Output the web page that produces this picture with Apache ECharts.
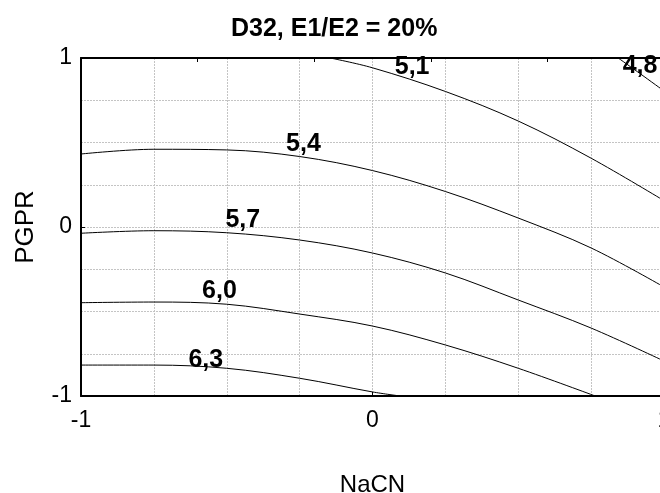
<!DOCTYPE html>
<html>
<head>
<meta charset="utf-8">
<script src="https://cdn.jsdelivr.net/npm/echarts@6/dist/echarts.min.js"></script>
<style>
  html, body { margin: 0; padding: 0; background: #fff; }
  #chart { width: 660px; height: 493px; }
</style>
</head>
<body>
<div id="chart"></div>
<script>
// contour lines, [NaCN, PGPR]
var line48 = [[0.843, 1], [0.92, 0.905], [1, 0.805]];
var line51 = [[-0.145, 1], [0.0, 0.942], [0.25, 0.802], [0.5, 0.627], [0.75, 0.407], [1, 0.156]];
var line54 = [[-1, 0.432], [-0.75, 0.46], [-0.5, 0.456], [-0.25, 0.417], [0, 0.334], [0.25, 0.21], [0.5, 0.053], [0.75, -0.124], [1, -0.355]];
var line57 = [[-1, -0.037], [-0.75, -0.022], [-0.5, -0.034], [-0.25, -0.077], [0, -0.154], [0.25, -0.272], [0.5, -0.432], [0.75, -0.598], [1, -0.793]];
var line60 = [[-1, -0.448], [-0.75, -0.444], [-0.5, -0.457], [-0.25, -0.515], [0, -0.586], [0.25, -0.698], [0.5, -0.836], [0.764, -1]];
var line63 = [[-1, -0.817], [-0.75, -0.817], [-0.5, -0.836], [-0.25, -0.895], [0, -0.976], [0.095, -1]];

var levelNames = ['4,8', '5,1', '5,4', '5,7', '6,0', '6,3'];
var labelX = [0.918, 0.136, -0.237, -0.445, -0.525, -0.572];
var labelY = [0.953, 0.949, 0.491, 0.04, -0.378, -0.785];

var xTicks = [-1, 0, 1];
var yTicks = [-1, 0, 1];

var chart = echarts.init(document.getElementById('chart'));

var gridLine = { show: true, lineStyle: { color: '#c4c4c4', type: [2, 1], width: 1 } };
var font = 'Liberation Sans, Arial, sans-serif';

function contour(data) {
    return {
        type: 'line',
        data: data,
        showSymbol: false,
        smooth: 0.35,
        lineStyle: { color: '#000', width: 1 },
        silent: true,
        z: 3
    };
}

var labelData = levelNames.map(function (n, i) {
    return [labelX[i], labelY[i], n];
});

var option = {
    animation: false,
    backgroundColor: '#fff',
    title: {
        text: 'D32, E1/E2 = 20%',
        left: 231,
        top: 17,
        padding: 0,
        textStyle: { fontFamily: font, fontSize: 25, fontWeight: 'bold', color: '#000' }
    },
    grid: { left: 81, top: 58, right: -4, bottom: 97, outerBoundsMode: 'none', containLabel: false },
    xAxis: [{
        type: 'value',
        min: -1, max: 1, interval: 1,
        name: 'NaCN',
        nameLocation: 'middle',
        nameGap: 77,
        nameTextStyle: { fontFamily: font, fontSize: 24, color: '#000' },
        axisLine: { onZero: false, lineStyle: { color: '#000', width: 2 } },
        axisTick: { inside: true, length: 4, lineStyle: { color: '#000' } },
        axisLabel: {
            fontFamily: font, fontSize: 23, color: '#000', margin: 13,
            formatter: function (v) { return xTicks.indexOf(v) >= 0 ? String(v) : ''; }
        },
        splitLine: gridLine,
        minorTick: { show: false, splitNumber: 4 },
        minorSplitLine: gridLine
    }, {
        type: 'value',
        position: 'top',
        min: -1, max: 1, interval: 0.4,
        axisLine: { onZero: false, lineStyle: { color: '#000', width: 2 } },
        axisTick: { inside: true, length: 4, lineStyle: { color: '#000' } },
        axisLabel: { show: false },
        splitLine: { show: false }
    }],
    yAxis: {
        type: 'value',
        min: -1, max: 1, interval: 1,
        name: 'PGPR',
        nameLocation: 'middle',
        nameGap: 42,
        nameTextStyle: { fontFamily: font, fontSize: 26, color: '#000' },
        axisLine: { show: true, onZero: false, lineStyle: { color: '#000', width: 2 } },
        axisTick: { show: true, inside: true, length: 4, lineStyle: { color: '#000' } },
        axisLabel: {
            fontFamily: font, fontSize: 23, color: '#000', margin: 9,
            formatter: function (v) { return yTicks.indexOf(v) >= 0 ? String(v) : ''; }
        },
        splitLine: gridLine,
        minorTick: { show: false, splitNumber: 4 },
        minorSplitLine: gridLine
    },
    series: [
        contour(line48),
        contour(line51),
        contour(line54),
        contour(line57),
        contour(line60),
        contour(line63),
        {
            type: 'custom',
            data: labelData,
            silent: true,
            z: 4,
            renderItem: function (params, api) {
                var p = api.coord([api.value(0), api.value(1)]);
                return {
                    type: 'text',
                    x: p[0],
                    y: p[1],
                    style: {
                        text: labelData[params.dataIndex][2],
                        fill: '#000',
                        font: 'bold 25px ' + font,
                        align: 'center',
                        verticalAlign: 'middle'
                    }
                };
            }
        }
    ]
};

chart.setOption(option);
</script>
</body>
</html>
